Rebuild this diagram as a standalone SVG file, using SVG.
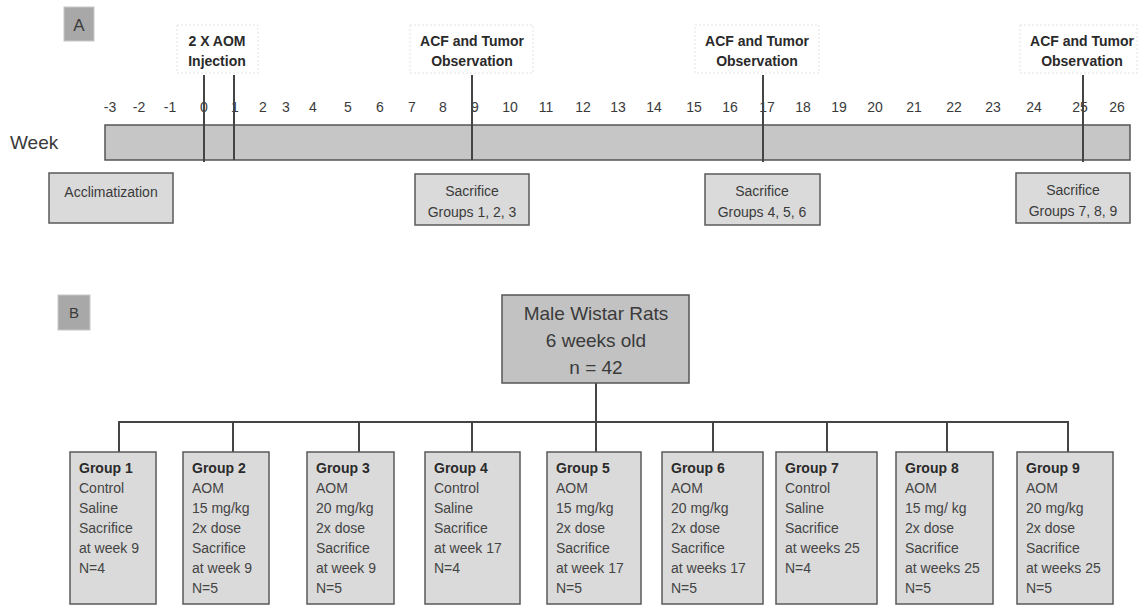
<svg xmlns="http://www.w3.org/2000/svg" width="1138" height="605" viewBox="0 0 1138 605">
<style>
text{font-family:"Liberation Sans",Arial,sans-serif;fill:#3a3a3a}
.t{font-size:14px;text-anchor:middle}
.b{font-weight:bold;font-size:14px;fill:#2a2a2a}
.lbl{fill:#a8a8a8;stroke:#c8c8c8;stroke-width:1}
.box{fill:#dadada;stroke:#5a5a5a;stroke-width:1.5}
.note{fill:#fff;stroke:#e2e2e2;stroke-width:1;stroke-dasharray:2 2}
.g{font-size:14px;fill:#444}
.ln{stroke:#444;stroke-width:2;fill:none}
</style>
<g id="panelA">
<rect class="lbl" x="64" y="7" width="30" height="34"/>
<text x="79" y="31" font-size="17" text-anchor="middle" fill="#333">A</text>
<text x="10" y="149" font-size="19" fill="#555">Week</text>
<g id="ticks" class="t">
<text x="110" y="112">-3</text><text x="139" y="112">-2</text><text x="170" y="112">-1</text><text x="204" y="112">0</text><text x="235" y="112">1</text><text x="263" y="112">2</text><text x="286" y="112">3</text><text x="313" y="112">4</text><text x="348" y="112">5</text><text x="380" y="112">6</text><text x="412" y="112">7</text><text x="443" y="112">8</text><text x="475" y="112">9</text><text x="510" y="112">10</text><text x="546" y="112">11</text><text x="583" y="112">12</text><text x="618" y="112">13</text><text x="654" y="112">14</text><text x="694" y="112">15</text><text x="730" y="112">16</text><text x="767" y="112">17</text><text x="803" y="112">18</text><text x="839" y="112">19</text><text x="875" y="112">20</text><text x="914" y="112">21</text><text x="954" y="112">22</text><text x="993" y="112">23</text><text x="1034" y="112">24</text><text x="1080" y="112">25</text><text x="1117" y="112">26</text>
</g>
<rect id="bar" x="105" y="125" width="1025" height="35" fill="#c6c6c6" stroke="#555" stroke-width="1.5"/>
<g id="aom">
<rect class="note" x="177" y="25" width="81" height="48"/>
<text class="b" x="217" y="46" text-anchor="middle">2 X AOM</text>
<text class="b" x="217" y="66" text-anchor="middle">Injection</text>
</g>
<g id="acf1">
<rect class="note" x="410" y="25" width="123" height="48"/>
<text class="b" x="472" y="46" text-anchor="middle">ACF and Tumor</text>
<text class="b" x="472" y="66" text-anchor="middle">Observation</text>
</g>
<g id="acf2">
<rect class="note" x="695" y="25" width="124" height="48"/>
<text class="b" x="757" y="46" text-anchor="middle">ACF and Tumor</text>
<text class="b" x="757" y="66" text-anchor="middle">Observation</text>
</g>
<g id="acf3">
<rect class="note" x="1020" y="25" width="117" height="48"/>
<text class="b" x="1082" y="46" text-anchor="middle">ACF and Tumor</text>
<text class="b" x="1082" y="66" text-anchor="middle">Observation</text>
</g>
<g id="markers" class="ln">
<line x1="204" y1="75" x2="204" y2="162"/>
<line x1="234" y1="75" x2="234" y2="160"/>
<line x1="472" y1="75" x2="472" y2="160"/>
<line x1="763" y1="75" x2="763" y2="162"/>
<line x1="1083" y1="75" x2="1083" y2="162"/>
</g>
<g id="acclim">
<rect class="box" x="49" y="173" width="124" height="50"/>
<text class="t" x="111" y="197" fill="#444">Acclimatization</text>
</g>
<g id="sac1">
<rect class="box" x="415" y="174" width="114" height="51"/>
<text class="t" x="472" y="196" fill="#444">Sacrifice</text>
<text class="t" x="472" y="217" fill="#444">Groups 1, 2, 3</text>
</g>
<g id="sac2">
<rect class="box" x="705" y="174" width="115" height="51"/>
<text class="t" x="762" y="196" fill="#444">Sacrifice</text>
<text class="t" x="762" y="217" fill="#444">Groups 4, 5, 6</text>
</g>
<g id="sac3">
<rect class="box" x="1016" y="173" width="114" height="50"/>
<text class="t" x="1073" y="195" fill="#444">Sacrifice</text>
<text class="t" x="1073" y="216" fill="#444">Groups 7, 8, 9</text>
</g>
</g>
<g id="panelB">
<rect class="lbl" x="58" y="295" width="32" height="35"/>
<text x="74" y="318" font-size="15" text-anchor="middle" fill="#333">B</text>
</g>
<g id="connectors" class="ln">
<line x1="596" y1="383" x2="596" y2="453"/>
<polyline points="119,453 119,422 1068,422 1068,453"/>
<line x1="233" y1="422" x2="233" y2="453"/>
<line x1="359" y1="422" x2="359" y2="453"/>
<line x1="472" y1="422" x2="472" y2="453"/>
<line x1="713" y1="422" x2="713" y2="453"/>
<line x1="827" y1="422" x2="827" y2="453"/>
<line x1="947" y1="422" x2="947" y2="453"/>
</g>
<g id="root">
<rect x="502" y="295" width="187" height="88" fill="#c2c2c2" stroke="#555" stroke-width="1.5"/>
<text x="596" y="320" font-size="19" text-anchor="middle">Male Wistar Rats</text>
<text x="596" y="347" font-size="19" text-anchor="middle">6 weeks old</text>
<text x="596" y="374" font-size="19" text-anchor="middle">n = 42</text>
</g>
<g id="group1">
<rect class="box" x="70" y="452" width="86" height="152"/>
<text class="b" x="79" y="473">Group 1</text>
<text class="g" x="79" y="493">Control</text><text class="g" x="79" y="513">Saline</text><text class="g" x="79" y="533">Sacrifice</text><text class="g" x="79" y="553">at week 9</text><text class="g" x="79" y="573">N=4</text>
</g>
<g id="group2">
<rect class="box" x="183" y="452" width="86" height="152"/>
<text class="b" x="192" y="473">Group 2</text>
<text class="g" x="192" y="493">AOM</text><text class="g" x="192" y="513">15 mg/kg</text><text class="g" x="192" y="533">2x dose</text><text class="g" x="192" y="553">Sacrifice</text><text class="g" x="192" y="573">at week 9</text><text class="g" x="192" y="593">N=5</text>
</g>
<g id="group3">
<rect class="box" x="307" y="452" width="87" height="152"/>
<text class="b" x="316" y="473">Group 3</text>
<text class="g" x="316" y="493">AOM</text><text class="g" x="316" y="513">20 mg/kg</text><text class="g" x="316" y="533">2x dose</text><text class="g" x="316" y="553">Sacrifice</text><text class="g" x="316" y="573">at week 9</text><text class="g" x="316" y="593">N=5</text>
</g>
<g id="group4">
<rect class="box" x="425" y="452" width="95" height="152"/>
<text class="b" x="434" y="473">Group 4</text>
<text class="g" x="434" y="493">Control</text><text class="g" x="434" y="513">Saline</text><text class="g" x="434" y="533">Sacrifice</text><text class="g" x="434" y="553">at week 17</text><text class="g" x="434" y="573">N=4</text>
</g>
<g id="group5">
<rect class="box" x="547" y="452" width="94" height="152"/>
<text class="b" x="556" y="473">Group 5</text>
<text class="g" x="556" y="493">AOM</text><text class="g" x="556" y="513">15 mg/kg</text><text class="g" x="556" y="533">2x dose</text><text class="g" x="556" y="553">Sacrifice</text><text class="g" x="556" y="573">at week 17</text><text class="g" x="556" y="593">N=5</text>
</g>
<g id="group6">
<rect class="box" x="662" y="452" width="101" height="152"/>
<text class="b" x="671" y="473">Group 6</text>
<text class="g" x="671" y="493">AOM</text><text class="g" x="671" y="513">20 mg/kg</text><text class="g" x="671" y="533">2x dose</text><text class="g" x="671" y="553">Sacrifice</text><text class="g" x="671" y="573">at weeks 17</text><text class="g" x="671" y="593">N=5</text>
</g>
<g id="group7">
<rect class="box" x="776" y="452" width="101" height="152"/>
<text class="b" x="785" y="473">Group 7</text>
<text class="g" x="785" y="493">Control</text><text class="g" x="785" y="513">Saline</text><text class="g" x="785" y="533">Sacrifice</text><text class="g" x="785" y="553">at weeks 25</text><text class="g" x="785" y="573">N=4</text>
</g>
<g id="group8">
<rect class="box" x="896" y="452" width="97" height="152"/>
<text class="b" x="905" y="473">Group 8</text>
<text class="g" x="905" y="493">AOM</text><text class="g" x="905" y="513">15 mg/ kg</text><text class="g" x="905" y="533">2x dose</text><text class="g" x="905" y="553">Sacrifice</text><text class="g" x="905" y="573">at weeks 25</text><text class="g" x="905" y="593">N=5</text>
</g>
<g id="group9">
<rect class="box" x="1017" y="452" width="96" height="152"/>
<text class="b" x="1026" y="473">Group 9</text>
<text class="g" x="1026" y="493">AOM</text><text class="g" x="1026" y="513">20 mg/kg</text><text class="g" x="1026" y="533">2x dose</text><text class="g" x="1026" y="553">Sacrifice</text><text class="g" x="1026" y="573">at weeks 25</text><text class="g" x="1026" y="593">N=5</text>
</g>
</svg>
